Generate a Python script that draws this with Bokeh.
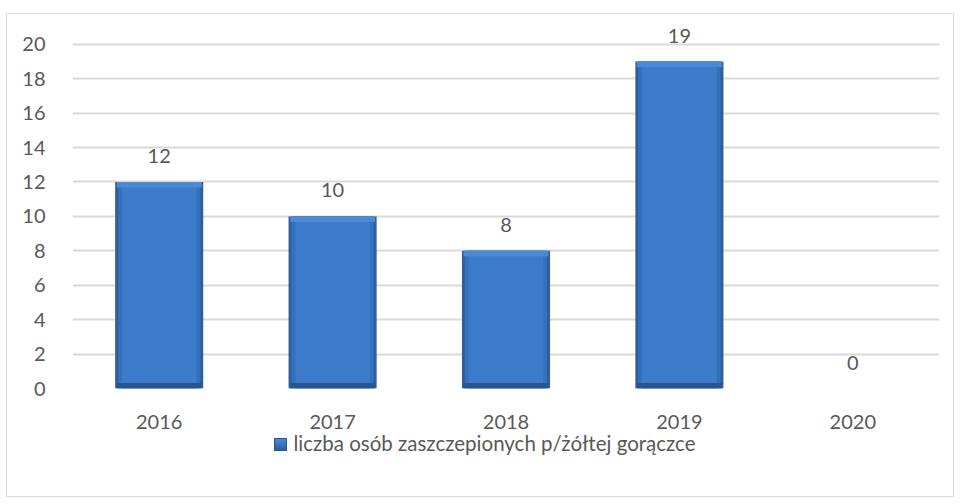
from bokeh.plotting import figure
from bokeh.models import ColumnDataSource, Range1d, FixedTicker, Div
from bokeh.layouts import column
from bokeh.core.properties import value
from bokeh.embed import file_html
from bokeh.resources import INLINE

years = ["2016", "2017", "2018", "2019", "2020"]
counts = [12, 10, 8, 19, 0]
y_ticks = [0, 2, 4, 6, 8, 10, 12, 14, 16, 18, 20]
series_name = "liczba osób zaszczepionych p/żółtej gorączce"

FONT = "Lato"
GRAY = "#595959"

bevel = 0.32
src = ColumnDataSource(dict(
    x=years, top=counts, lbl=[str(c) for c in counts],
    bev=[max(c - bevel, 0) for c in counts],
    low=[min(c, bevel) for c in counts],
))

p = figure(x_range=years, y_range=Range1d(0, 21.5), width=946, height=420,
           output_backend="svg", toolbar_location=None,
           min_border_left=65, min_border_right=14, min_border_top=4, min_border_bottom=46)
p.outline_line_color = None

# bar body (layered to imitate the bevelled gradient)
p.vbar(x="x", top="top", bottom=0, width=0.508, source=src,
       fill_color="#2d5f9f", line_color=None)
p.vbar(x="x", top="top", bottom=0, width=0.475, source=src,
       fill_color="#3570ba", line_color=None)
p.vbar(x="x", top="top", bottom=0, width=0.43, source=src,
       fill_color="#3d7cca", line_color=None)
# light top bevel and dark bottom edge
p.vbar(x="x", top="top", bottom="bev", width=0.49, source=src,
       fill_color="#4b8ad6", line_color=None)
p.vbar(x="x", top="low", bottom=0, width=0.49, source=src,
       fill_color="#2a548e", line_color=None)

p.text(x="x", y="top", text="lbl", source=src, text_align="center", text_baseline="middle",
       y_offset=-26, text_font=value(FONT), text_font_size="20px", text_color=GRAY)

p.yaxis.ticker = FixedTicker(ticks=y_ticks)
p.ygrid.ticker = FixedTicker(ticks=y_ticks)
p.ygrid.grid_line_color = "#d9d9d9"
p.ygrid.grid_line_width = 2
p.xgrid.grid_line_color = None

for ax in (p.xaxis, p.yaxis):
    ax.axis_line_color = None
    ax.major_tick_line_color = None
    ax.minor_tick_line_color = None
    ax.major_label_text_font = FONT
    ax.major_label_text_font_size = "20px"
    ax.major_label_text_color = GRAY
p.yaxis.major_label_standoff = 21
p.xaxis.major_label_standoff = 20

legend_html = (
    '<div style="width:946px;margin-top:-9px;text-align:center;font-family:Lato;font-size:20.5px;'
    'line-height:20px;color:%s;">'
    '<span style="display:inline-block;width:13px;height:13px;margin-right:6px;'
    'background:linear-gradient(#4a88d4,#2c5d9c);border:1px solid #2a5590;'
    'box-sizing:border-box;vertical-align:0px;"></span>%s</div>' % (GRAY, series_name)
)
legend_div = Div(text=legend_html, width=946, height=62)

layout = column(p, legend_div, spacing=0, width=946, height=482, sizing_mode="fixed",
                styles={"outline": "1.5px solid #d9d9d9", "margin-left": "7px",
                        "margin-top": "14px", "background": "white"})

open("out.html", "w").write(file_html(layout, INLINE))
